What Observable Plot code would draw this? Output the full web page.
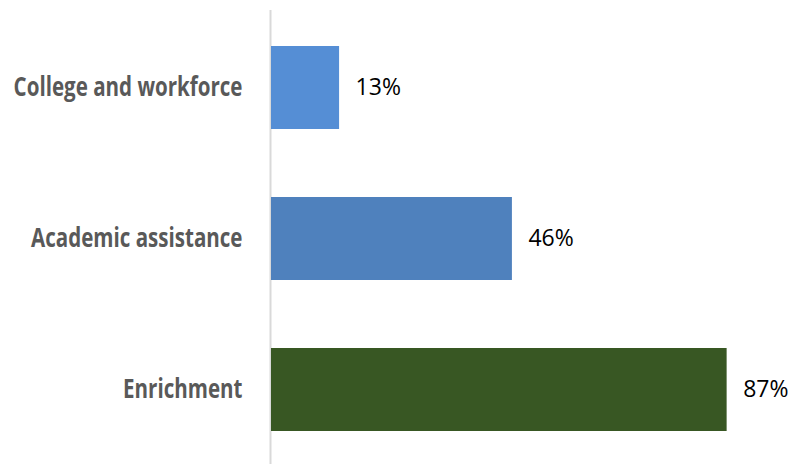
<!DOCTYPE html>
<html><head><meta charset="utf-8">
<script src="https://cdn.jsdelivr.net/npm/d3@7"></script>
<script src="https://cdn.jsdelivr.net/npm/@observablehq/plot@0.6"></script>
<style>
body{margin:0;background:#fff}
</style>
</head><body><div id="chart"></div>
<script>
const categories = ["College and workforce", "Academic assistance", "Enrichment"];
const values = [13, 46, 87];
const colors = ["#558ED5", "#4F81BD", "#385723"];
const data = categories.map((c, i) => ({category: c, value: values[i], color: colors[i]}));

const chart = Plot.plot({
  width: 790, height: 464,
  marginLeft: 271, marginRight: 0, marginTop: 10, marginBottom: 0,
  x: {domain: [0, 99.1], axis: null},
  y: {domain: categories, range: [10.5, 466], paddingInner: 0.45, paddingOuter: 0.225, axis: null},
  color: {type: "identity"},
  style: {background: "#fff"},
  marks: [
    Plot.ruleX([0], {stroke: "#d9d9d9", strokeWidth: 2, dx: -1}),
    Plot.barX(data, {y: "category", x: "value", fill: d => d.color}),
    Plot.text(data, {x: "value", y: "category", text: d => d.value + "%", textAnchor: "start", dx: 16,
      fontSize: 23, fill: "#000", fontFamily: "Open Sans"}),
    Plot.axisY({tickSize: 0, tickPadding: 29, label: null, fontSize: 26, fontWeight: "bold",
      fill: "#595959", fontFamily: "Open Sans"})
  ]
});
document.getElementById("chart").append(chart);
// emulate a condensed bold face by compressing the label glyphs horizontally
const condense = 0.79;
chart.querySelectorAll('g[aria-label="y-axis tick label"] text').forEach(t => {
  const w = t.getComputedTextLength();
  t.setAttribute("textLength", (w * condense).toFixed(1));
  t.setAttribute("lengthAdjust", "spacingAndGlyphs");
});
</script>
</body></html>
